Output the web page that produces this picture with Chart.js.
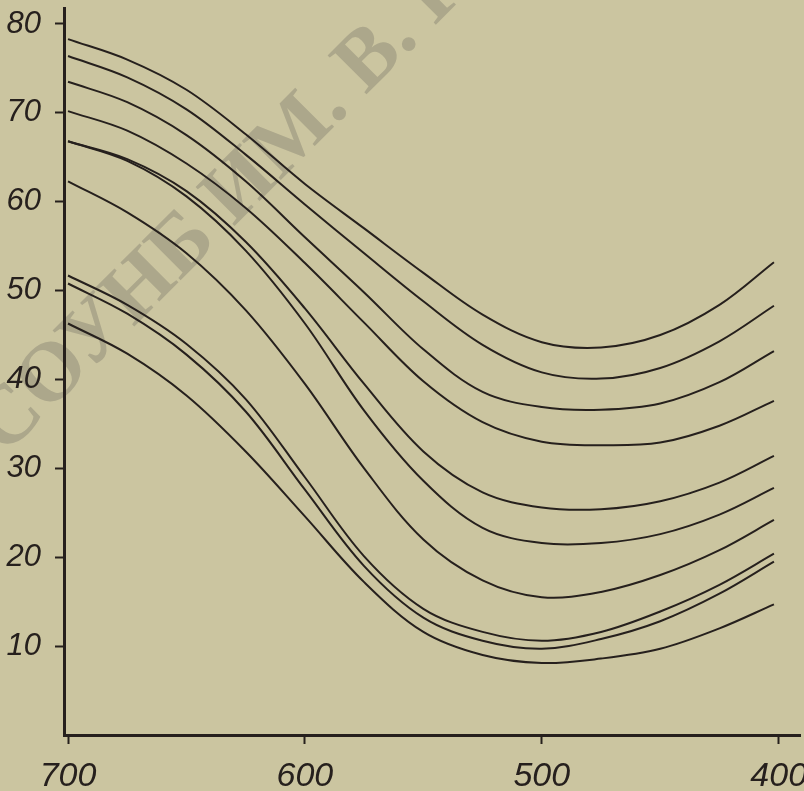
<!DOCTYPE html>
<html>
<head>
<meta charset="utf-8">
<script src="https://cdn.jsdelivr.net/npm/chart.js@4.4.1/dist/chart.umd.min.js"></script>
<style>
  html, body { margin: 0; padding: 0; background: #cbc5a0; }
  #wrap { width: 804px; height: 791px; }
</style>
</head>
<body>
<div id="wrap"><canvas id="chart" width="804" height="791"></canvas></div>
<script>
// wavelength, nm (axis runs 700 -> 400)
const WAVELENGTHS = [700, 675, 650, 625, 600, 575, 550, 525, 500, 475, 450, 425, 402];

// curves read top to bottom
const CURVE_1 = [78.3, 76.0, 72.6, 67.6, 62.0, 57.0, 52.0, 47.3, 44.2, 43.6, 45.0, 48.4, 53.2];
const CURVE_2 = [76.4, 74.0, 70.4, 65.3, 59.7, 54.2, 48.8, 43.9, 40.8, 40.1, 41.3, 44.3, 48.3];
const CURVE_3 = [73.5, 71.2, 67.5, 62.3, 56.0, 49.8, 43.4, 38.6, 36.9, 36.6, 37.3, 39.7, 43.2];
const CURVE_4 = [70.2, 68.0, 64.3, 59.3, 53.1, 46.4, 39.8, 35.2, 33.0, 32.6, 32.9, 34.8, 37.6];
const CURVE_5 = [66.8, 64.8, 61.2, 55.5, 48.0, 39.5, 31.9, 27.3, 25.6, 25.4, 26.3, 28.4, 31.4];
const CURVE_6 = [66.8, 64.6, 60.6, 54.5, 46.3, 36.5, 28.6, 23.3, 21.6, 21.6, 22.6, 24.8, 27.8];
const CURVE_7 = [62.3, 58.8, 54.2, 47.8, 39.5, 30.0, 22.0, 17.4, 15.5, 16.1, 18.0, 20.8, 24.2];
const CURVE_8 = [51.7, 48.4, 44.0, 37.8, 29.0, 20.1, 14.2, 11.6, 10.6, 11.6, 13.9, 16.9, 20.4];
const CURVE_9 = [50.8, 47.4, 42.8, 36.4, 27.6, 19.0, 13.2, 10.6, 9.7, 10.8, 12.8, 15.9, 19.5];
const CURVE_10 = [46.3, 42.9, 38.2, 31.9, 24.6, 17.2, 11.6, 9.0, 8.1, 8.6, 9.7, 12.0, 14.7];

const CURVES = [CURVE_1, CURVE_2, CURVE_3, CURVE_4, CURVE_5, CURVE_6, CURVE_7, CURVE_8, CURVE_9, CURVE_10];

const X_TICKS = [700, 600, 500, 400];
const Y_TICKS = [10, 20, 30, 40, 50, 60, 70, 80];

const WATERMARK = 'СОУНБ ИМ. В. Г. БЕЛИНСКОГО';

const INK = '#26201d';
const PAPER = '#cbc5a0';
const LABEL_FONT = "'Liberation Sans', Arimo, sans-serif";

const paperPlugin = {
  id: 'paper',
  beforeDraw(chart) {
    const ctx = chart.ctx;
    ctx.save();
    ctx.fillStyle = PAPER;
    ctx.fillRect(0, 0, chart.width, chart.height);

    // library stamp running diagonally across the sheet
    ctx.font = "bold 84px 'Liberation Serif', 'DejaVu Serif', serif";
    ctx.fillStyle = 'rgb(172,167,139)';
    ctx.textBaseline = 'middle';
    const pre = 'СОУНБ ИМ. ';
    const off = ctx.measureText(pre).width + ctx.measureText('В').width / 2;
    ctx.translate(370, 60);
    ctx.rotate(-Math.PI / 4);
    ctx.fillText(WATERMARK, -off, 0);
    ctx.restore();
  },
};

new Chart(document.getElementById('chart'), {
  type: 'line',
  data: {
    datasets: CURVES.map((vals, i) => ({
      label: 'curve ' + (i + 1),
      data: WAVELENGTHS.map((w, j) => ({ x: w, y: vals[j] })),
      borderColor: INK,
      borderWidth: 2,
      pointRadius: 0,
      fill: false,
      tension: 0.35,
    })),
  },
  options: {
    responsive: false,
    animation: false,
    layout: { padding: { top: 8, right: 4, left: 0, bottom: 0 } },
    plugins: {
      legend: { display: false },
      tooltip: { enabled: false },
    },
    scales: {
      x: {
        type: 'linear',
        reverse: true,
        min: 391,
        max: 701.7,
        afterBuildTicks: (s) => { s.ticks = X_TICKS.map((v) => ({ value: v })); },
        afterFit: (s) => { s.height = 56; s.paddingLeft = 0; s.paddingRight = 0; },
        grid: { drawOnChartArea: false, drawTicks: true, tickLength: 9, tickWidth: 2, color: INK },
        border: { display: true, color: INK, width: 3 },
        ticks: {
          color: INK,
          padding: 12,
          maxRotation: 0,
          font: { family: LABEL_FONT, size: 34, style: 'italic' },
          callback: (v) => String(v),
        },
      },
      y: {
        type: 'linear',
        min: 0,
        max: 81.8,
        afterBuildTicks: (s) => { s.ticks = Y_TICKS.map((v) => ({ value: v })); },
        afterFit: (s) => { s.width = 64; s.paddingTop = 0; s.paddingBottom = 0; },
        grid: { drawOnChartArea: false, drawTicks: true, tickLength: 9, tickWidth: 2, color: INK },
        border: { display: true, color: INK, width: 3 },
        ticks: {
          color: INK,
          padding: 14,
          font: { family: LABEL_FONT, size: 31, style: 'italic' },
          callback: (v) => String(v),
        },
      },
    },
  },
  plugins: [paperPlugin],
});
</script>
</body>
</html>
